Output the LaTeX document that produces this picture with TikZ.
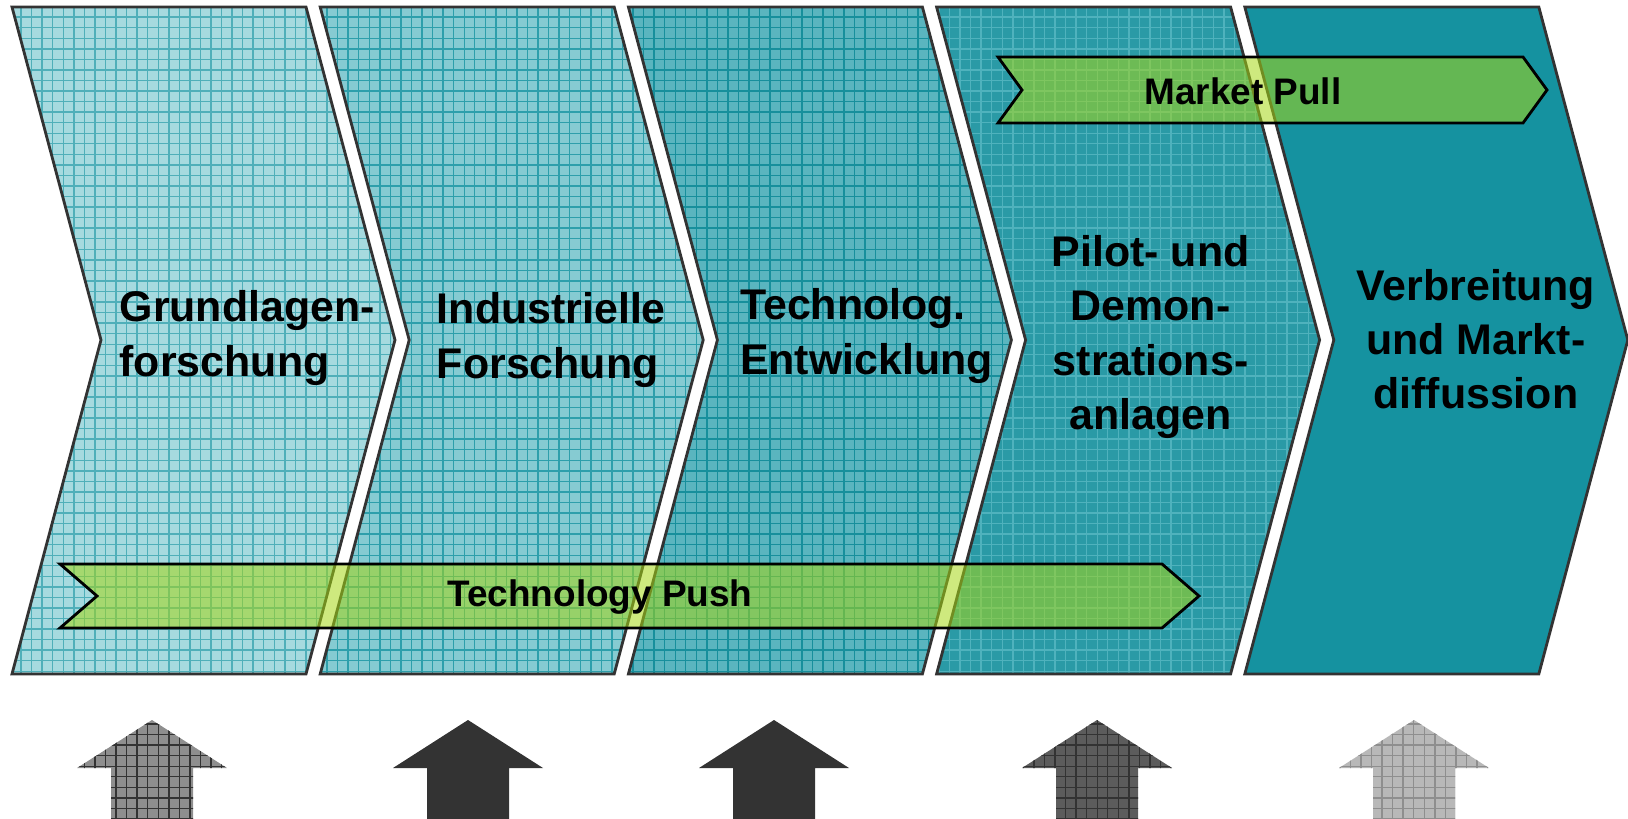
\documentclass[tikz,border=0pt]{standalone}
\usepackage{fontspec}
\setmainfont{Liberation Sans}
\usetikzlibrary{patterns}

\definecolor{edgegray}{HTML}{333333}
\definecolor{phaseA}{HTML}{A6DADF}
\definecolor{gridA}{HTML}{4FAFB9}
\definecolor{phaseB}{HTML}{86CBD2}
\definecolor{gridB}{HTML}{2E9FAB}
\definecolor{phaseC}{HTML}{5AB5BF}
\definecolor{gridC}{HTML}{178F9C}
\definecolor{phaseD}{HTML}{2A9AA6}
\definecolor{gridD}{HTML}{4FB2BD}
\definecolor{phaseE}{HTML}{1592A0}
\definecolor{bandgreen}{RGB}{165,215,20}
\definecolor{arrowA}{HTML}{8E8E8E}
\definecolor{arrowB}{HTML}{333333}
\definecolor{arrowD}{HTML}{5C5C5C}
\definecolor{arrowE}{HTML}{B8B8B8}

\tikzset{
  phase/.style={draw=edgegray, line width=0.8pt, line join=miter},
  band/.style={draw=black, line width=0.8pt, fill=bandgreen, fill opacity=0.55},
  phasetext/.style={font=\fontsize{12.2pt}{15.4pt}\selectfont\bfseries, inner sep=0pt},
  bandtext/.style={font=\fontsize{10.5pt}{12.6pt}\selectfont\bfseries, inner sep=0pt},
}

\begin{document}
\begin{tikzpicture}[x=0.01cm, y=-0.01cm]
\useasboundingbox (0,0) rectangle (1628,819);

\begin{scope}[shift={(12,0)}]
    % 第一阶段
    \path[phase, preaction={fill=phaseA}, pattern=grid, pattern color=gridA]
        (0,7) -- (294,7) -- (383,340) -- (294,674) -- (0,674) -- (89,340) -- cycle;
    \node[phasetext, anchor=west, align=left] (grundlagen) at (107,338) {Grundlagen-\\forschung};
\end{scope}

\begin{scope}[shift={(320.2,0)}]
    % 第二阶段
    \path[phase, preaction={fill=phaseB}, pattern=grid, pattern color=gridB]
        (0,7) -- (294,7) -- (383,340) -- (294,674) -- (0,674) -- (89,340) -- cycle;
    \node[phasetext, anchor=west, align=left] (industrie) at (116,340) {Industrielle\\Forschung};
\end{scope}

\begin{scope}[shift={(628.4,0)}]
    % 第三阶段
    \path[phase, preaction={fill=phaseC}, pattern=grid, pattern color=gridC]
        (0,7) -- (294,7) -- (383,340) -- (294,674) -- (0,674) -- (89,340) -- cycle;
    \node[phasetext, anchor=west, align=left] (technolog) at (111,336) {Technolog.\\Entwicklung};
\end{scope}

\begin{scope}[shift={(936.6,0)}]
    % 第四阶段
    \path[phase, preaction={fill=phaseD}, pattern=grid, pattern color=gridD]
        (0,7) -- (294,7) -- (383,340) -- (294,674) -- (0,674) -- (89,340) -- cycle;
    \node[phasetext, align=center] (pilot) at (214,337) {Pilot- und\\Demon-\\strations-\\anlagen};
\end{scope}

\begin{scope}[shift={(1244.8,0)}]
    % 第五阶段
    \path[phase, fill=phaseE]
        (0,7) -- (294,7) -- (383,340) -- (294,674) -- (0,674) -- (89,340) -- cycle;
    \node[phasetext, align=center] (verbreitung) at (231,339) {Verbreitung\\und Markt-\\diffussion};
\end{scope}

% 绿色的箭头带
\path[band] (60,564) -- (1162,564) -- (1199,596) -- (1162,628) -- (60,628) -- (97,596) -- cycle;
\node[bandtext] (push) at (600,597) {Technology Push};

\path[band] (998,57) -- (1523,57) -- (1547,90) -- (1523,123) -- (998,123) -- (1022,90) -- cycle;
\node[bandtext] (pull) at (1243,91) {Market Pull};

% 下面的箭头
\begin{scope}[shift={(152,0)}]
    \path[preaction={fill=arrowA}, pattern=grid, pattern color=edgegray]
        (-41,819) -- (-41,768) -- (-75,768) -- (0,720) -- (75,768) -- (41,768) -- (41,819) -- cycle;
\end{scope}

\begin{scope}[shift={(468,0)}]
    \fill[arrowB] (-41,819) -- (-41,768) -- (-75,768) -- (0,720) -- (75,768) -- (41,768) -- (41,819) -- cycle;
\end{scope}

\begin{scope}[shift={(774,0)}]
    \fill[arrowB] (-41,819) -- (-41,768) -- (-75,768) -- (0,720) -- (75,768) -- (41,768) -- (41,819) -- cycle;
\end{scope}

\begin{scope}[shift={(1097,0)}]
    \path[preaction={fill=arrowD}, pattern=grid, pattern color=edgegray]
        (-41,819) -- (-41,768) -- (-75,768) -- (0,720) -- (75,768) -- (41,768) -- (41,819) -- cycle;
\end{scope}

\begin{scope}[shift={(1414,0)}]
    \path[preaction={fill=arrowE}, pattern=grid, pattern color=arrowA]
        (-41,819) -- (-41,768) -- (-75,768) -- (0,720) -- (75,768) -- (41,768) -- (41,819) -- cycle;
\end{scope}
\end{tikzpicture}
\end{document}
